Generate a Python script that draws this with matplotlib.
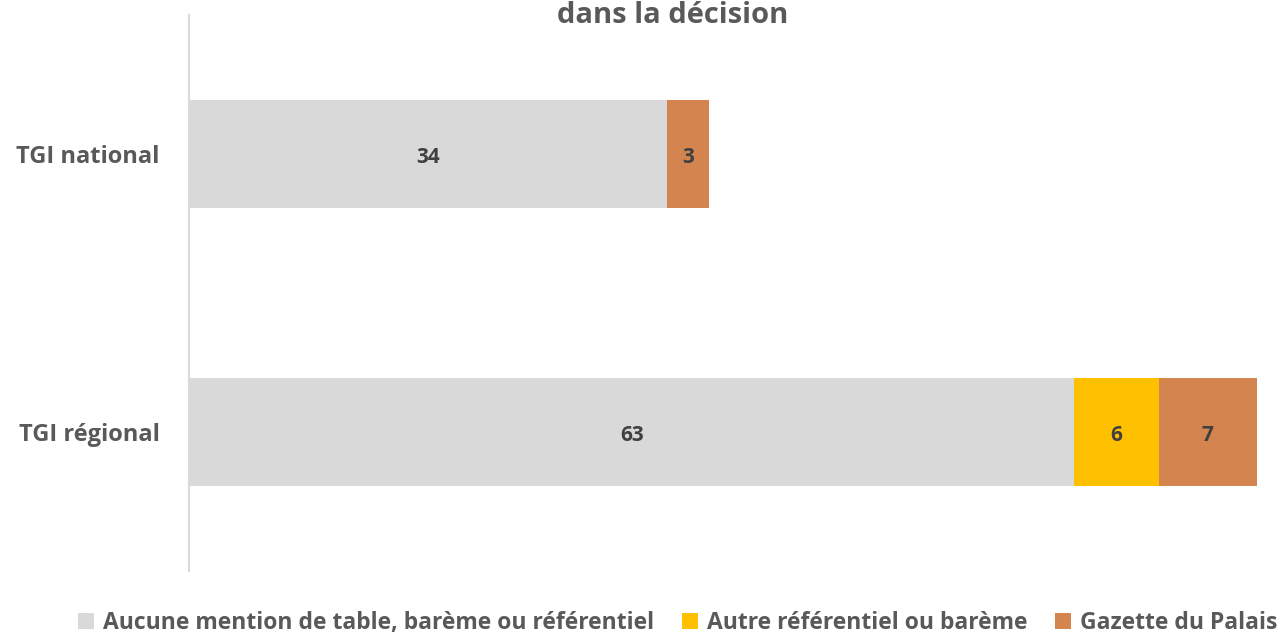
import numpy as np
import matplotlib
matplotlib.use('Agg')
import matplotlib.pyplot as plt

plt.rcParams['font.family'] = ['Open Sans', 'DejaVu Sans']

categories = ['TGI national', 'TGI régional']
series_names = ['Aucune mention de table, barème ou référentiel',
                'Autre référentiel ou barème',
                'Gazette du Palais']
aucune = [34, 63]
autre = [0, 6]
gazette = [3, 7]

colors = ['#D9D9D9', '#FFC000', '#D4844F']
TEXT = '#595959'

fig = plt.figure(figsize=(12.84, 6.34), dpi=100)
ax = fig.add_axes([189 / 1284, 63 / 634, (1257 - 189) / 1284, (571 - 15) / 634])

# categories listed top to bottom
ypos = np.arange(len(categories))[::-1]
left = np.zeros(len(categories))
for name, vals, col in zip(series_names, [aucune, autre, gazette], colors):
    vals = np.array(vals, dtype=float)
    bars = ax.barh(ypos, vals, left=left, height=0.39, color=col, label=name)
    for b, v in zip(bars, vals):
        if v > 0:
            ax.text(b.get_x() + b.get_width() / 2, b.get_y() + b.get_height() / 2 - 0.012,
                    '%d' % v, ha='center', va='center', fontsize=15,
                    fontweight='bold', color='#404040')
    left += vals

ax.set_xlim(0, 76)
ax.set_ylim(-0.5, 1.5)
ax.set_yticks(ypos)
ax.set_yticklabels(categories, fontsize=17, fontweight='bold', color=TEXT)
ax.tick_params(axis='y', length=0, pad=21)
ax.set_xticks([])
for s in ['top', 'right', 'bottom']:
    ax.spines[s].set_visible(False)
ax.spines['left'].set_color('#D9D9D9')
ax.spines['left'].set_linewidth(1.5)

fig.text(673 / 1284, 1 - 1 / 634, 'dans la décision', ha='center', va='top',
         fontsize=21, fontweight='bold', color=TEXT)

leg = fig.legend(loc='center', bbox_to_anchor=(678 / 1284, 1 - 623 / 634), ncol=3,
                 frameon=False, fontsize=16.5, handlelength=0.7, handleheight=0.7,
                 handletextpad=0.4, columnspacing=1.2)
for t in leg.get_texts():
    t.set_color(TEXT)
    t.set_fontweight('bold')

fig.savefig('out.png', dpi=100)
